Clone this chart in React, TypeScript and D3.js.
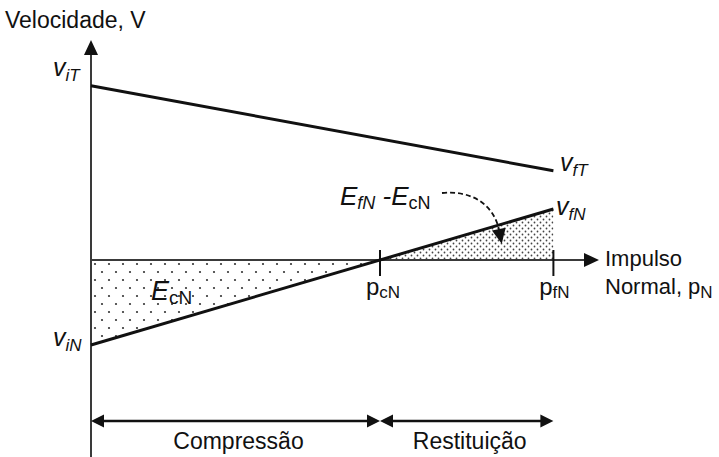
import React from "react";
import * as d3 from "d3";

// Normal impulse at start of impact, end of compression (pcN) and end of restitution (pfN)
const impulseMarks = [0, 1, 1.6];
// Normal velocity along the impulse
const normalVelocity = [-1, 0, 0.6];
// Tangential velocity at start and end of impact
const tangentImpulse = [0, 1.6];
const tangentVelocity = [2.05, 1.05];
// Phase names
const phases = ["Compressão", "Restituição"];

const W = 719;
const H = 457;
const FONT = "'Liberation Sans', Arial, Helvetica, sans-serif";

export default function App() {
  const x = d3.scaleLinear().domain([0, 1]).range([91, 380]);
  const y = d3.scaleLinear().domain([0, 1]).range([260, 175]);

  const x0 = x(0);
  const y0 = y(0);
  const xc = x(impulseMarks[1]);
  const xf = x(impulseMarks[2]);

  const lineGen = d3
    .line<[number, number]>()
    .x((d) => x(d[0]))
    .y((d) => y(d[1]));

  const normalPts: [number, number][] = impulseMarks.map((p, i) => [p, normalVelocity[i]]);
  const tangentPts: [number, number][] = tangentImpulse.map((p, i) => [p, tangentVelocity[i]]);

  const areaGen = d3
    .area<[number, number]>()
    .x((d) => x(d[0]))
    .y0(y0)
    .y1((d) => y(d[1]));

  const compArea = areaGen(normalPts.slice(0, 2)) || "";
  const restArea = areaGen(normalPts.slice(1, 3)) || "";

  const axisColor = "#3a3a3a";
  const ink = "#111";

  // filled arrowhead: tip at (tx,ty) pointing in direction angle (radians)
  const head = (tx: number, ty: number, ang: number, len: number, half: number) => {
    const bx = tx - len * Math.cos(ang);
    const by = ty - len * Math.sin(ang);
    const nx = -Math.sin(ang);
    const ny = Math.cos(ang);
    return `M${tx},${ty}L${bx + nx * half},${by + ny * half}L${bx - nx * half},${by - ny * half}Z`;
  };

  const yBar = 421;

  // dashed callout curve
  const cs = [442, 193];
  const c1 = [472, 190];
  const c2 = [494, 205];
  const ce = [499, 230];
  const calloutAng = Math.atan2(ce[1] - c2[1], ce[0] - c2[0]);
  const tipX = ce[0] + 14 * Math.cos(calloutAng);
  const tipY = ce[1] + 14 * Math.sin(calloutAng);

  const vLabel = (vx: number, vy: number, sub: string) => (
    <text x={vx} y={vy} fontFamily={FONT} fill={ink}>
      <tspan fontStyle="italic" fontSize={25}>v</tspan>
      <tspan fontStyle="italic" fontSize={17} dy={5}>{sub}</tspan>
    </text>
  );

  return (
    <div style={{ position: "absolute", left: 0, top: 0 }}>
      <svg width={W} height={H} style={{ display: "block", background: "#fff" }}>
        <defs>
          <pattern id="sparseDots" width={14} height={16} patternUnits="userSpaceOnUse" x={x0} y={y0}>
            <circle cx={4} cy={4} r={1.1} fill="#333" />
            <circle cx={11} cy={12} r={1.1} fill="#333" />
          </pattern>
          <pattern id="denseDots" width={6} height={6} patternUnits="userSpaceOnUse" x={xc} y={y0}>
            <circle cx={1.5} cy={1.5} r={0.9} fill="#444" />
            <circle cx={4.5} cy={4.5} r={0.9} fill="#444" />
          </pattern>
        </defs>

        {/* shaded impulse areas */}
        <path d={compArea} fill="url(#sparseDots)" />
        <path d={restArea} fill="url(#denseDots)" />

        {/* axes */}
        <line x1={x0} y1={H + 5} x2={x0} y2={52} stroke={axisColor} strokeWidth={2} />
        <path d={head(x0, 40, -Math.PI / 2, 15, 7)} fill={ink} />
        <line x1={x0} y1={y0} x2={587} y2={y0} stroke={axisColor} strokeWidth={2} />
        <path d={head(599, y0, 0, 15, 7)} fill={ink} />

        {/* impulse ticks */}
        {[xc, xf].map((tx, i) => (
          <line key={i} x1={tx} y1={250} x2={tx} y2={276} stroke={ink} strokeWidth={2} />
        ))}

        {/* velocity lines */}
        <path d={lineGen(tangentPts) || ""} fill="none" stroke={ink} strokeWidth={3} />
        <path d={lineGen([normalPts[0], normalPts[2]]) || ""} fill="none" stroke={ink} strokeWidth={3} />

        {/* phase span arrows */}
        <line x1={x0 + 8} y1={yBar} x2={xc - 8} y2={yBar} stroke={ink} strokeWidth={2.5} />
        <path d={head(x0, yBar, Math.PI, 13, 6.5)} fill={ink} />
        <path d={head(xc, yBar, 0, 13, 6.5)} fill={ink} />
        <line x1={xc + 8} y1={yBar} x2={xf - 8} y2={yBar} stroke={ink} strokeWidth={2.5} />
        <path d={head(xc, yBar, Math.PI, 13, 6.5)} fill={ink} />
        <path d={head(xf, yBar, 0, 13, 6.5)} fill={ink} />

        <text x={(x0 + xc) / 2 + 3} y={449} textAnchor="middle" fontFamily={FONT} fontSize={23} fill={ink}>
          {phases[0]}
        </text>
        <text x={(xc + xf) / 2 + 3} y={449} textAnchor="middle" fontFamily={FONT} fontSize={23} fill={ink}>
          {phases[1]}
        </text>

        {/* dashed callout */}
        <path
          d={`M${cs[0]},${cs[1]}C${c1[0]},${c1[1]} ${c2[0]},${c2[1]} ${ce[0]},${ce[1]}`}
          fill="none"
          stroke={ink}
          strokeWidth={1.8}
          strokeDasharray="5,3"
        />
        <path d={head(tipX, tipY, calloutAng, 15, 7)} fill={ink} />

        {/* axis titles */}
        <text x={5} y={28} fontFamily={FONT} fontSize={23} fill={ink}>Velocidade, V</text>
        <text x={605} y={266} fontFamily={FONT} fontSize={22} fill={ink}>Impulso</text>
        <text x={605} y={294} fontFamily={FONT} fontSize={22} fill={ink}>
          Normal, p<tspan fontSize={17} dy={4}>N</tspan>
        </text>

        {/* velocity labels */}
        {vLabel(53, 76, "iT")}
        {vLabel(560, 171, "fT")}
        {vLabel(556, 215, "fN")}
        {vLabel(53, 346, "iN")}

        {/* impulse tick labels */}
        <text x={xc + 3} y={295} textAnchor="middle" fontFamily={FONT} fontSize={24} fill={ink}>
          p<tspan fontSize={17} dy={3}>cN</tspan>
        </text>
        <text x={xf + 1} y={295} textAnchor="middle" fontFamily={FONT} fontSize={24} fill={ink}>
          p<tspan fontSize={17} dy={3}>fN</tspan>
        </text>

        {/* energy labels */}
        <text x={151} y={300} fontFamily={FONT} fill={ink}>
          <tspan fontStyle="italic" fontSize={27}>E</tspan>
          <tspan fontSize={19} dy={4}>cN</tspan>
        </text>
        <text x={340} y={205} fontFamily={FONT} fill={ink}>
          <tspan fontStyle="italic" fontSize={26}>E</tspan>
          <tspan fontStyle="italic" fontSize={18} dy={4}>fN</tspan>
          <tspan fontStyle="italic" fontSize={26} dy={-4}> -E</tspan>
          <tspan fontSize={18} dy={4}>cN</tspan>
        </text>
      </svg>
    </div>
  );
}
